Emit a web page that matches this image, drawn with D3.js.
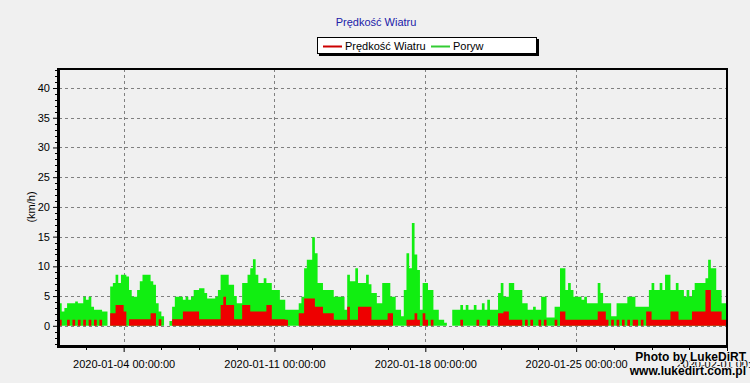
<!DOCTYPE html>
<html><head><meta charset="utf-8">
<script src="https://cdn.jsdelivr.net/npm/d3@7"></script>
<style>
html,body{margin:0;padding:0;background:#f0f0f0;}
svg{display:block;}
text{font-family:"Liberation Sans",Arial,sans-serif;}
</style></head>
<body>
<svg id="chart" width="750" height="383"></svg>
<script>
// ---- data (3-hourly samples from 2020-01-01 00:00 UTC) ----
const startDate = "2020-01-01T00:00:00Z";
const endDate = "2020-02-01T00:00:00Z";
const stepHours = 3;
const seriesNames = ["Prędkość Wiatru", "Poryw"];
const gust = [
3.8,2.4,3.0,3.8,3.8,3.8,4.1,3.8,3.8,4.9,
4.4,4.9,3.2,2.7,2.7,2.7,2.4,2.4,0,6.6,
7.2,8.6,7.2,8.6,8.6,8.3,6.0,4.9,4.9,6.0,
7.5,8.6,8.6,8.6,7.5,6.9,3.8,2.4,1.6,0,
0,0.8,3.2,4.9,4.9,4.9,4.4,4.9,4.4,4.9,
6.0,6.0,6.3,6.3,5.5,4.6,4.6,4.6,4.9,6.0,
8.6,8.6,8.6,6.9,6.9,5.0,3.8,3.8,7.2,7.2,
8.6,9.7,11.2,8.6,7.2,7.2,8.0,7.2,7.2,6.0,
6.0,6.0,4.4,4.4,2.7,2.7,2.7,2.7,2.7,3.8,
4.9,9.7,11.1,11.1,14.9,12.2,7.2,7.2,6.0,6.0,
6.0,6.0,4.9,4.9,4.9,4.9,2.7,8.6,7.5,7.5,
9.7,7.2,7.2,7.2,8.6,7.0,5.5,5.5,3.8,3.8,
7.2,7.2,7.2,4.9,4.9,2.7,2.7,1.6,6.0,12.2,
9.7,17.3,12.0,9.4,2.7,7.2,7.2,6.0,6.0,2.7,
2.7,1.0,1.0,0.5,0,0,2.7,2.7,2.7,3.5,
2.7,3.5,2.7,2.7,3.5,2.7,2.7,3.8,2.7,4.4,
2.7,2.7,2.7,5.5,7.2,4.9,4.9,7.2,7.2,6.0,
6.0,6.0,3.8,3.8,2.7,2.7,3.2,2.7,2.7,4.9,
4.9,1.4,1.4,1.4,3.2,3.2,9.7,9.7,6.0,7.2,
6.0,4.9,4.9,4.9,4.4,4.9,3.8,3.8,3.8,3.8,
7.2,5.5,3.8,3.8,3.8,1.6,1.6,3.8,3.8,3.8,
3.8,4.9,4.9,4.9,3.2,3.2,3.2,3.2,3.2,6.0,
7.2,6.0,6.0,7.2,6.0,8.6,8.6,6.0,6.0,7.2,
6.0,6.0,4.9,6.0,4.9,6.0,7.2,7.2,7.2,7.2,
8.0,11.1,9.7,9.7,6.0,6.0,3.8,3.8];
const speed = [
1,0,0,1,0,1,0,1,0,1,
0,1,0,1,0,1,0,0,0,2.1,
2.1,3.5,3.5,3.5,2.4,0,1.1,1.1,1.1,1.1,
1.1,1.1,1.1,1.1,2.1,2.1,0,1.1,0,0,
0,0,1.1,1.1,1.1,1.1,2.4,2.4,2.4,2.4,
2.4,2.4,1.1,1.1,1.1,1.1,1.1,1.1,1.1,1.1,
3.5,4.9,3.5,3.5,3.5,1.1,1.1,1.1,3.5,3.5,
3.5,2.4,2.4,2.4,2.4,2.4,2.4,3.5,3.5,1.1,
1.1,1.1,1.1,1.1,1.0,0,0,0,0,2.1,
2.1,4.6,4.6,4.6,4.6,3.2,3.2,3.2,2.1,2.1,
2.1,2.1,1.0,1.0,1.0,1.0,1.0,3.2,1.0,1.0,
1.0,3.2,3.2,3.2,3.2,3.2,1.0,1.0,1.0,1.0,
1.0,1.0,2.1,2.1,0,0,0,0,0,1.0,
1.0,1.0,2.1,1.0,0,2.1,1.0,0,1.0,0,
0,0,0,0,0,0,0,0,0,1.0,
0,0,0,0,0,1.0,0,0,0,1.0,
0,0,0,2.1,2.1,2.4,2.4,1,1,1,
1,1,0,1,0,1,0,0,1,0,
1,0,0,0,1,0,2.4,2.4,1,1,
1,1,1,1,1,1,1,1,1,1,
2.4,2.4,2.4,1,0,1,0,1,0,1,
0,1,0,1,1,0,1,0,2.4,2.4,
1,1,1,1,1,1,1,2.4,2.4,2.4,
1,1,1,1,1,2.4,2.4,2.4,2.4,2.4,
6.0,6.0,2.4,2.4,2.4,2.4,1,1];
const yTicks = [0,5,10,15,20,25,30,35,40];
const xTickLabels = ["2020-01-04 00:00:00","2020-01-11 00:00:00","2020-01-18 00:00:00","2020-01-25 00:00:00","2020-02-01 00:00:00"];
const titleText = "Prędkość Wiatru";
const yLabel = "(km/h)";
const watermark = ["Photo by LukeDiRT","www.lukedirt.com.pl"];

// ---- chart ----
const svg = d3.select("#chart");
const L = 59, R = 727, T = 69, B = 346;
const parseLbl = d3.utcParse("%Y-%m-%d %H:%M:%S");
const fmtLbl = d3.utcFormat("%Y-%m-%d %H:%M:%S");
const t0 = new Date(startDate), t1 = new Date(endDate);
const x = d3.scaleUtc().domain([t0, t1]).range([L, R]);
const y = d3.scaleLinear().domain([-3.4, 43.2]).range([B, T]);

svg.append("rect").attr("width",750).attr("height",383).attr("fill","#f0f0f0");

// title
svg.append("text").attr("x",376).attr("y",26).attr("text-anchor","middle")
  .attr("font-size",11).attr("fill","#2020a8").text(titleText);

// legend
const lg = svg.append("g");
lg.append("rect").attr("x",319).attr("y",39).attr("width",220).attr("height",17).attr("fill","#000");
lg.append("rect").attr("x",317.5).attr("y",37.5).attr("width",219).attr("height",16).attr("fill","#fff").attr("stroke","#000").attr("stroke-width",1);
lg.append("line").attr("x1",323).attr("x2",342).attr("y1",46.5).attr("y2",46.5).attr("stroke","#cc0000").attr("stroke-width",2);
lg.append("text").attr("x",345).attr("y",50).attr("font-size",11).attr("fill","#000").text(seriesNames[0]);
lg.append("line").attr("x1",431).attr("x2",450).attr("y1",46.5).attr("y2",46.5).attr("stroke","#33cc33").attr("stroke-width",2);
lg.append("text").attr("x",453).attr("y",50).attr("font-size",11).attr("fill","#000").text(seriesNames[1]);

// grid
const xTicks = xTickLabels.map(s => parseLbl(s));
const grid = svg.append("g").attr("stroke","#808080").attr("stroke-width",1).attr("stroke-dasharray","3,3");
yTicks.forEach(v => grid.append("line").attr("x1",L).attr("x2",R).attr("y1",Math.round(y(v))+0.5).attr("y2",Math.round(y(v))+0.5));
xTicks.forEach(d => { const xx = Math.round(x(d))+0.5; if (xx < R) grid.append("line").attr("x1",xx).attr("x2",xx).attr("y1",T).attr("y2",B); });

// data areas
const pts = (arr) => { const p = arr.map((v,i)=>({t:new Date(t0.getTime()+i*stepHours*3600e3), v})); p.push({t:t1, v:arr[arr.length-1]}); return p; };
const area = d3.area().curve(d3.curveStepAfter).x(d=>x(d.t)).y0(y(0)).y1(d=>y(d.v));
svg.append("path").datum(pts(gust)).attr("d",area).attr("fill","#11ee11");
svg.append("path").datum(pts(speed)).attr("d",area).attr("fill","#ee0000");

// frame
svg.append("rect").attr("x",L).attr("y",T).attr("width",R-L).attr("height",B-T).attr("fill","none").attr("stroke","#000").attr("stroke-width",2);
svg.append("line").attr("x1",L-0.5).attr("x2",L-0.5).attr("y1",T-1).attr("y2",B+1.5).attr("stroke","#000").attr("stroke-width",3);
svg.append("line").attr("x1",L-2).attr("x2",R+1).attr("y1",B+0.5).attr("y2",B+0.5).attr("stroke","#000").attr("stroke-width",3);

// y axis
const ya = svg.append("g").attr("transform",`translate(${L-2},0)`)
  .call(d3.axisLeft(y).tickValues(yTicks).tickSize(4).tickPadding(3));
ya.select(".domain").remove();
ya.selectAll("text").attr("font-size",11).attr("font-family","Liberation Sans, Arial, sans-serif").attr("fill","#000");
const yMinor = d3.range(-3, 44, 1).filter(v => !yTicks.includes(v));
svg.append("g").selectAll("line").data(yMinor).join("line")
  .attr("x1",L-4).attr("x2",L-2).attr("y1",d=>Math.round(y(d))+0.5).attr("y2",d=>Math.round(y(d))+0.5).attr("stroke","#000");

// x axis
const xa = svg.append("g").attr("transform",`translate(0,${B+2})`)
  .call(d3.axisBottom(x).tickValues(xTicks).tickSize(4).tickPadding(8).tickFormat(fmtLbl));
xa.select(".domain").remove();
xa.selectAll("text").attr("font-size",11).attr("font-family","Liberation Sans, Arial, sans-serif").attr("fill","#000");
const xMinor = d3.range(-1, 18).map(k => new Date(xTicks[0].getTime() + k*1.75*86400e3)).filter(d => d > t0 && d < t1 && (d - xTicks[0]) % (7*86400e3) !== 0);
svg.append("g").selectAll("line").data(xMinor).join("line")
  .attr("x1",d=>Math.round(x(d))+0.5).attr("x2",d=>Math.round(x(d))+0.5).attr("y1",B+2).attr("y2",B+4).attr("stroke","#000");

// y label
svg.append("text").attr("transform","translate(35,207) rotate(-90)").attr("text-anchor","middle")
  .attr("font-size",11).attr("fill","#000").text(yLabel);

// watermark
const wm = svg.append("g").attr("font-weight","bold").attr("font-size",12).attr("text-anchor","end")
  .attr("fill","#000").attr("stroke","#f0f0f0").attr("stroke-width",2).attr("paint-order","stroke");
wm.append("text").attr("x",746).attr("y",361).text(watermark[0]);
wm.append("text").attr("x",746).attr("y",375).text(watermark[1]);
</script>
</body></html>
